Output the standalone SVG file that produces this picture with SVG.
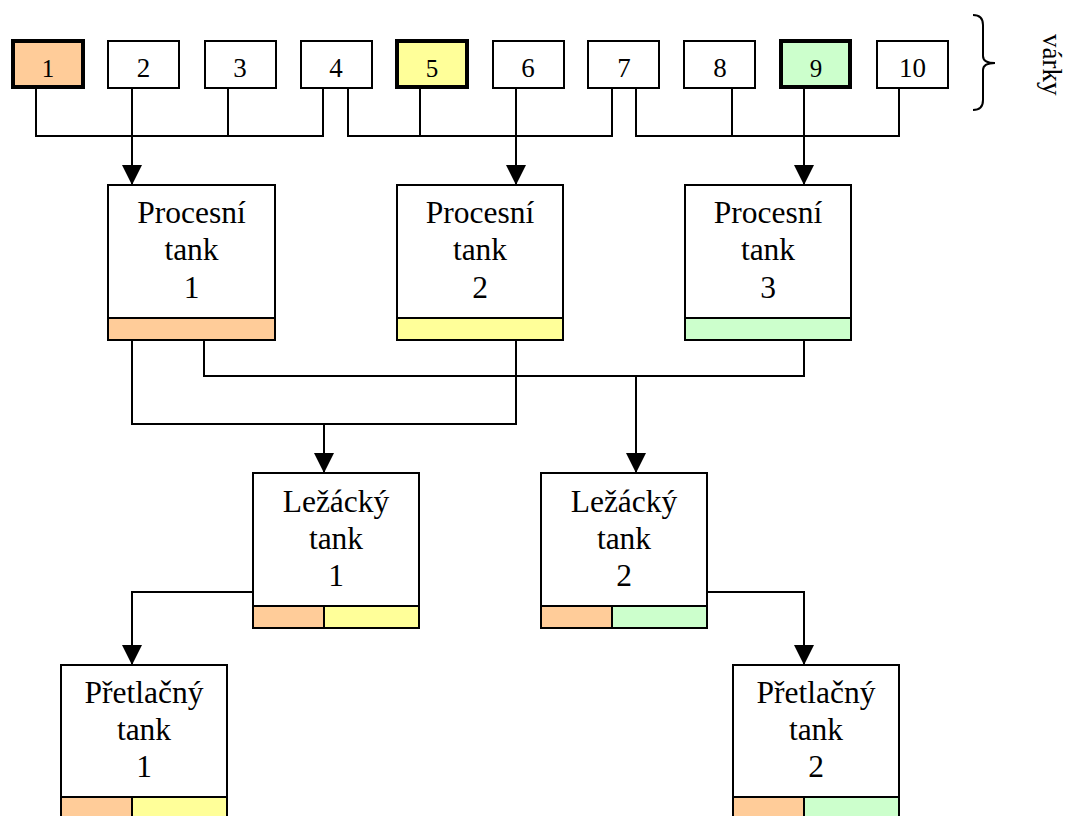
<svg xmlns="http://www.w3.org/2000/svg" width="1065" height="816" viewBox="0 0 1065 816">
<style>
.bx{fill:#fff;stroke:#000;stroke-width:2}
.o{fill:#FFCC99;stroke:#000;stroke-width:2}
.y{fill:#FFFF99;stroke:#000;stroke-width:2}
.g{fill:#CCFFCC;stroke:#000;stroke-width:2}
.thk{stroke-width:4}
text{font-family:"Liberation Serif",Tinos,"Times New Roman","DejaVu Serif","Noto Serif",serif;fill:#000;text-anchor:middle}
.n{font-size:27px}
.nh{font-size:25px}
.l{font-size:31.5px}
.c{fill:none;stroke:#000;stroke-width:2}
.a{fill:none;stroke:#000;stroke-width:2;marker-end:url(#ah)}
</style>
<defs>
<marker id="ah" markerUnits="userSpaceOnUse" markerWidth="20" markerHeight="20" viewBox="0 0 20 20" refX="19" refY="10" orient="auto">
<path d="M0,0 L20,10 L0,20 z" fill="#000"/>
</marker>
</defs>
<rect width="1065" height="816" fill="#fff"/>
<g id="connectors">
<path class="c" d="M36,89 V136 H323 V88 M228,88 V136"/>
<path class="a" d="M132,88 V184"/>
<path class="c" d="M348,88 V136 H612 V88 M420,89 V136"/>
<path class="a" d="M516,88 V184"/>
<path class="c" d="M636,88 V136 H899 V88 M732,88 V136"/>
<path class="a" d="M804,89 V184"/>
<path class="c" d="M132,341 V424 H516 V341 M204,341 V376 H804 V341"/>
<path class="a" d="M324,424 V472"/>
<path class="a" d="M636,376 V472"/>
<path class="a" d="M252,592 H132 V664"/>
<path class="a" d="M708,592 H804 V664"/>
</g>
<g id="v1"><rect class="o thk" x="13" y="41" width="70" height="46"/><text class="nh" x="48" y="77">1</text></g>
<g id="v2"><rect class="bx" x="108" y="41" width="71" height="47"/><text class="n" x="143.5" y="77">2</text></g>
<g id="v3"><rect class="bx" x="205" y="41" width="71" height="47"/><text class="n" x="240" y="77">3</text></g>
<g id="v4"><rect class="bx" x="301" y="41" width="71" height="47"/><text class="n" x="336" y="77">4</text></g>
<g id="v5"><rect class="y thk" x="397" y="41" width="70" height="46"/><text class="nh" x="432" y="77">5</text></g>
<g id="v6"><rect class="bx" x="493" y="41" width="71" height="47"/><text class="n" x="528" y="77">6</text></g>
<g id="v7"><rect class="bx" x="588" y="41" width="71" height="47"/><text class="n" x="624" y="77">7</text></g>
<g id="v8"><rect class="bx" x="684" y="41" width="71" height="47"/><text class="n" x="720" y="77">8</text></g>
<g id="v9"><rect class="g thk" x="781" y="41" width="69" height="46"/><text class="nh" x="816" y="77">9</text></g>
<g id="v10"><rect class="bx" x="877" y="41" width="71" height="47"/><text class="n" x="912.5" y="77">10</text></g>
<g id="brace">
<path class="c" d="M973,15 Q983,15 983,25 V56 Q983,63 995,63 Q983,63 983,70 V100 Q983,110 973,110"/>
<text class="n" style="text-anchor:start" transform="translate(1043,34) rotate(90)">várky</text>
</g>
<g id="p1"><rect class="bx" x="108" y="185" width="167" height="155"/><rect class="o" x="108" y="318" width="167" height="22"/>
<text class="l" x="191.5" y="223">Procesní</text><text class="l" x="191.5" y="260">tank</text><text class="l" x="191.5" y="298">1</text></g>
<g id="p2"><rect class="bx" x="397" y="185" width="166" height="155"/><rect class="y" x="397" y="318" width="166" height="22"/>
<text class="l" x="480" y="223">Procesní</text><text class="l" x="480" y="260">tank</text><text class="l" x="480" y="298">2</text></g>
<g id="p3"><rect class="bx" x="685" y="185" width="166" height="155"/><rect class="g" x="685" y="318" width="166" height="22"/>
<text class="l" x="768" y="223">Procesní</text><text class="l" x="768" y="260">tank</text><text class="l" x="768" y="298">3</text></g>
<g id="l1"><rect class="bx" x="253" y="473" width="166" height="155"/><rect class="o" x="253" y="606" width="71" height="22"/><rect class="y" x="324" y="606" width="95" height="22"/>
<text class="l" x="336" y="512">Ležácký</text><text class="l" x="336" y="549">tank</text><text class="l" x="336" y="586">1</text></g>
<g id="l2"><rect class="bx" x="541" y="473" width="166" height="155"/><rect class="o" x="541" y="606" width="71" height="22"/><rect class="g" x="612" y="606" width="95" height="22"/>
<text class="l" x="624" y="512">Ležácký</text><text class="l" x="624" y="549">tank</text><text class="l" x="624" y="586">2</text></g>
<g id="r1"><rect class="bx" x="61" y="665" width="166" height="165"/><rect class="o" x="61" y="797" width="71" height="33"/><rect class="y" x="132" y="797" width="95" height="33"/>
<text class="l" x="144" y="703">Přetlačný</text><text class="l" x="144" y="740">tank</text><text class="l" x="144" y="777">1</text></g>
<g id="r2"><rect class="bx" x="733" y="665" width="166" height="165"/><rect class="o" x="733" y="797" width="71" height="33"/><rect class="g" x="804" y="797" width="95" height="33"/>
<text class="l" x="816" y="703">Přetlačný</text><text class="l" x="816" y="740">tank</text><text class="l" x="816" y="777">2</text></g>
</svg>
